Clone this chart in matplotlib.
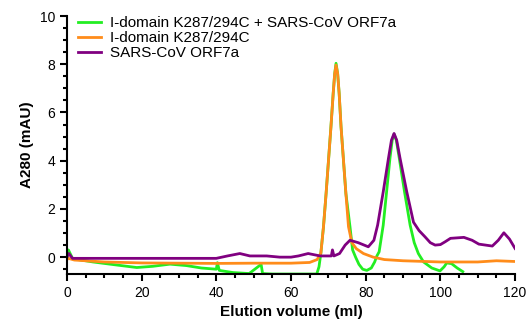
import matplotlib
matplotlib.use("Agg")
import matplotlib.pyplot as plt
from matplotlib.ticker import MultipleLocator

plt.rcParams['font.family'] = ['Liberation Sans', 'DejaVu Sans']

# Elution profiles
green_x = [0, 0.4, 1.5, 3, 7, 12, 18.7, 23, 27.6, 32, 36, 40, 40.3, 40.8, 44.5, 48.8, 52.0, 52.4,
           55, 60, 66.9, 67.5, 68.0, 68.7, 69.4, 70.7, 71.3, 71.7, 72.06, 72.5, 72.9, 73.4,
           74.7, 75.8, 76.5, 77.3, 78.2, 79.2, 80.3, 81.5, 82.4, 83.0, 83.6, 84.7, 85.6, 86.5,
           87.1, 87.6, 88.2, 89.0, 90.4, 91.9, 93.0, 94.1, 95.5, 97.7, 99.9, 101.0,
           101.7, 103.0, 104.5, 106]
green_y = [0.05, 0.3, -0.05, -0.1, -0.2, -0.3, -0.43, -0.38, -0.29, -0.35, -0.45, -0.5, -0.23,
           -0.55, -0.64, -0.68, -0.3, -0.68, -0.7, -0.7, -0.7, -0.4, 0.17, 1.26, 2.64, 5.41, 6.79,
           7.6, 8.04, 7.6, 6.79, 5.41, 2.64, 1.26, 0.3, 0.0, -0.3, -0.5, -0.55, -0.45, -0.2,
           0.05, 0.22, 1.33, 2.71, 4.1, 4.85, 5.1, 4.85, 4.1, 2.71, 1.33, 0.6, 0.15, -0.2,
           -0.45, -0.57, -0.4, -0.24, -0.27, -0.45, -0.6]

orange_x = [0, 0.4, 2, 5, 10, 20, 30, 40, 50, 60, 65, 67, 68.0, 68.7, 69.4, 70.7, 71.3, 71.7,
            72.06, 72.5, 72.9, 73.4, 74.7, 75.4, 76.3, 77.5, 79.4, 82, 85, 90,
            100, 110, 115, 120]
orange_y = [-0.1, -0.05, -0.12, -0.15, -0.2, -0.24, -0.25, -0.26, -0.25, -0.25, -0.22, -0.1, 0.17,
            1.26, 2.64, 5.41, 6.79, 7.6, 7.97, 7.6, 6.79, 5.41, 2.64, 1.26, 0.6, 0.35,
            0.15, 0.0, -0.1, -0.15, -0.2, -0.2, -0.15, -0.18]

purple_x = [0, 0.5, 1.5, 3, 10, 20, 30, 40, 43, 46.3, 49, 53.5, 57, 60, 62, 64.6, 67.8, 70,
            70.8, 71.1, 71.5, 73, 74.5, 75.8, 78, 80.7, 82.2, 83.2, 84.7, 86.1, 86.9, 87.6,
            88.3, 89.2, 91.0, 92.8, 94.3, 95.9, 97.3, 98.6, 100, 101.3, 102.7, 106.3,
            108.5, 110.3, 113.9, 115.5, 117, 118.5, 120]
purple_y = [0.0, 0.15, -0.05, -0.05, -0.05, -0.05, -0.05, -0.05, 0.05, 0.15, 0.05, 0.05, 0.0, 0.0,
            0.05, 0.15, 0.05, 0.05, 0.05, 0.3, 0.05, 0.15, 0.5, 0.7, 0.6, 0.43, 0.7, 1.33, 2.71,
            4.1, 4.85, 5.13, 4.85, 4.1, 2.71, 1.45, 1.1, 0.84, 0.6, 0.5, 0.52, 0.64,
            0.78, 0.82, 0.7, 0.54, 0.46, 0.7, 1.01, 0.75, 0.36]

labels = ["I-domain K287/294C + SARS-CoV ORF7a", "I-domain K287/294C", "SARS-CoV ORF7a"]
colors = ["#22ee22", "#ff8c1a", "#800080"]

fig = plt.figure(figsize=(5.31, 3.27), dpi=100)
ax = fig.add_axes([0.126, 0.162, 0.844, 0.789])

ax.plot(green_x, green_y, color=colors[0], lw=2, label=labels[0])
ax.plot(orange_x, orange_y, color=colors[1], lw=2, label=labels[1])
ax.plot(purple_x, purple_y, color=colors[2], lw=2, label=labels[2])

ax.set_xlim(0, 120)
ax.set_ylim(-0.7, 10)
ax.xaxis.set_major_locator(MultipleLocator(20))
ax.xaxis.set_minor_locator(MultipleLocator(5))
ax.yaxis.set_major_locator(MultipleLocator(2))
ax.yaxis.set_minor_locator(MultipleLocator(0.5))
ax.tick_params(which='major', length=5, width=1.5, labelsize=10)
ax.tick_params(which='minor', length=3, width=1.5)
for s in ['top', 'right']:
    ax.spines[s].set_visible(False)
for s in ['left', 'bottom']:
    ax.spines[s].set_linewidth(1.5)

ax.set_xlabel("Elution volume (ml)", fontsize=11, fontweight='bold')
ax.set_ylabel("A280 (mAU)", fontsize=11, fontweight='bold')

ax.legend(loc='upper left', bbox_to_anchor=(0.0, 1.04), frameon=False, fontsize=11,
          handlelength=1.5, handletextpad=0.6, labelspacing=0.05, borderaxespad=0.3)

fig.savefig("out.png", dpi=100)
